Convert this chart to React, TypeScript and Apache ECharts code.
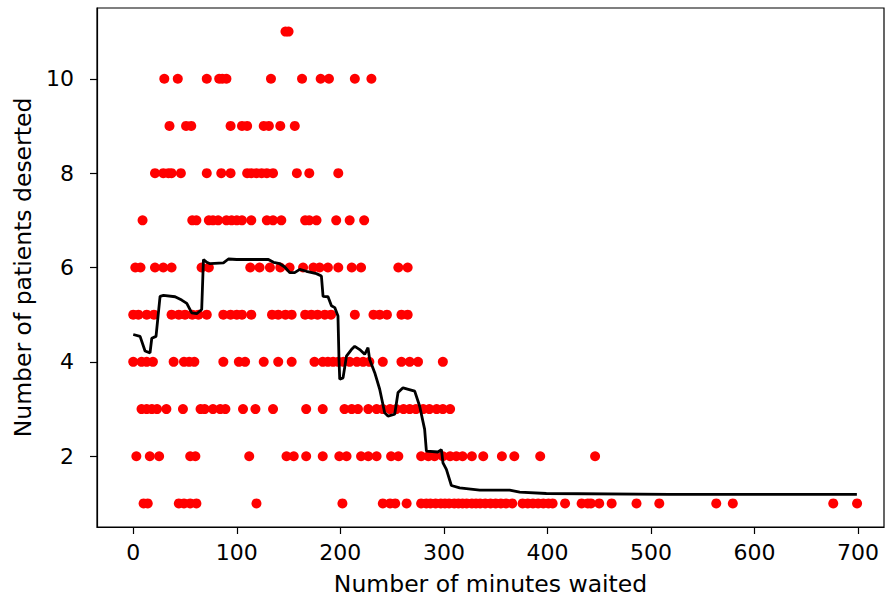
import React, { useEffect, useRef } from "react";
import * as echarts from "echarts";

const row1X = [10, 14, 44, 49, 55, 61, 119, 202, 241, 248, 253, 264, 278, 283, 287, 292, 297, 301, 305, 310, 314, 318, 322, 327, 331, 335, 340, 345, 350, 355, 360, 366, 376, 381, 386, 391, 396, 401, 405, 417, 433, 439, 442, 450, 462, 486, 508, 563, 579, 676, 699];
const row2X = [3, 16, 25, 55, 60, 112, 148, 155, 167, 183, 199, 206, 220, 227, 235, 249, 256, 278, 285, 291, 299, 306, 312, 318, 327, 338, 356, 368, 393, 446];
const row3X = [8, 13, 18, 23, 32, 48, 65, 69, 77, 84, 89, 106, 118, 135, 167, 183, 204, 211, 217, 227, 235, 241, 248, 254, 261, 267, 273, 280, 286, 293, 299, 306];
const row4X = [0, 8, 13, 19, 39, 49, 54, 59, 87, 102, 108, 126, 140, 153, 175, 183, 188, 193, 198, 203, 209, 216, 222, 228, 241, 259, 267, 275, 299];
const row5X = [0, 5, 13, 20, 37, 44, 50, 57, 63, 71, 87, 94, 100, 105, 114, 134, 140, 147, 153, 166, 172, 178, 185, 191, 214, 232, 238, 245, 259, 265];
const row6X = [2, 7, 21, 29, 37, 66, 73, 113, 122, 132, 142, 151, 164, 174, 180, 188, 198, 211, 220, 256, 265];
const row7X = [9, 57, 61, 73, 77, 82, 90, 95, 100, 105, 114, 129, 135, 143, 166, 170, 177, 196, 209, 223];
const row8X = [21, 29, 34, 37, 46, 71, 85, 94, 110, 114, 119, 124, 129, 135, 158, 170, 198];
const row9X = [35, 51, 56, 94, 105, 110, 126, 131, 142, 156];
const row10X = [30, 43, 71, 83, 86, 90, 133, 163, 181, 189, 214, 230];
const row11X = [147, 150];

const rows: [number, number[]][] = [
  [1, row1X], [2, row2X], [3, row3X], [4, row4X], [5, row5X], [6, row6X],
  [7, row7X], [8, row8X], [9, row9X], [10, row10X], [11, row11X],
];

const lineX = [0, 6.6, 11.4, 16.2, 17.9, 22, 25.9, 29.2, 40.4, 46.8, 51.7, 56.5, 61.3, 66.1, 67.8, 71, 74.2, 87.1, 91.9, 99.9, 130.5, 135.4, 141.5, 146.3, 151.1, 155.9, 160.8, 167.2, 176.9, 181.7, 183.3, 188.1, 191.4, 194.6, 197.7, 198.7, 199.4, 202.6, 205.9, 210.7, 213.9, 218.7, 223.5, 226.7, 228.3, 233.2, 238, 242.8, 246, 252.5, 255.7, 260.5, 271.8, 276.6, 281.4, 283.1, 294.3, 297.6, 299.1, 302.4, 307.2, 315.2, 334.6, 363.5, 373.2, 398.9, 518, 698.8];
const lineY = [4.58, 4.54, 4.23, 4.19, 4.5, 4.54, 5.39, 5.41, 5.38, 5.31, 5.24, 5.04, 5.02, 5.11, 6.17, 6.11, 6.08, 6.1, 6.18, 6.17, 6.17, 6.11, 6.08, 6.01, 5.89, 5.89, 5.96, 5.92, 5.87, 5.82, 5.39, 5.38, 5.19, 5.15, 4.97, 4.05, 3.63, 3.66, 4.12, 4.26, 4.33, 4.26, 4.16, 4.3, 4.05, 3.77, 3.42, 2.92, 2.85, 2.89, 3.35, 3.45, 3.38, 3.06, 2.57, 2.11, 2.09, 2.14, 1.86, 1.72, 1.38, 1.33, 1.28, 1.28, 1.24, 1.21, 1.19, 1.19];

const xTicks = [0, 100, 200, 300, 400, 500, 600, 700];
const yTicks = [2, 4, 6, 8, 10];

export default function App() {
  const ref = useRef<HTMLDivElement>(null);
  useEffect(() => {
    document.body.style.margin = "0";
    const chart = echarts.init(ref.current!, null, { renderer: "svg" });
    const pts: number[][] = [];
    rows.forEach(([y, xs]) => xs.forEach((x) => pts.push([x, y])));
    const linePts = lineX.map((x, i) => [x, lineY[i]]);
    const font = "DejaVu Sans";
    chart.setOption({
      animation: false,
      backgroundColor: "#fff",
      grid: {
        left: 97, right: 2, top: 8, bottom: 76,
        show: true, borderColor: "#000", borderWidth: 1.2, backgroundColor: "transparent",
      },
      xAxis: {
        type: "value", min: -35, max: 725,
        splitLine: { show: false },
        axisLine: { show: true, onZero: false, lineStyle: { color: "#000", width: 1.2 } },
        axisTick: { show: true, length: 7, customValues: xTicks, lineStyle: { color: "#000", width: 1.2 } },
        axisLabel: { customValues: xTicks, color: "#000", fontFamily: font, fontSize: 22, margin: 14 },
        name: "Number of minutes waited",
        nameLocation: "middle",
        nameGap: 45,
        nameTextStyle: { color: "#000", fontFamily: font, fontSize: 23.5 },
      },
      yAxis: {
        type: "value", min: 0.5, max: 11.5,
        splitLine: { show: false },
        axisLine: { show: true, onZero: false, lineStyle: { color: "#000", width: 1.2 } },
        axisTick: { show: true, length: 7, customValues: yTicks, lineStyle: { color: "#000", width: 1.2 } },
        axisLabel: { customValues: yTicks, color: "#000", fontFamily: font, fontSize: 22, margin: 23 },
        name: "Number of patients deserted",
        nameLocation: "middle",
        nameGap: 62,
        nameTextStyle: { color: "#000", fontFamily: font, fontSize: 23.5 },
      },
      series: [
        {
          type: "scatter",
          data: pts,
          symbol: "circle",
          symbolSize: 10,
          itemStyle: { color: "#ff0000", opacity: 1 },
          z: 2,
        },
        {
          type: "line",
          data: linePts,
          showSymbol: false,
          symbol: "none",
          lineStyle: { color: "#000", width: 2.8 },
          z: 3,
        },
      ],
    });
    return () => chart.dispose();
  }, []);
  return <div ref={ref} style={{ width: 886, height: 603 }} />;
}
